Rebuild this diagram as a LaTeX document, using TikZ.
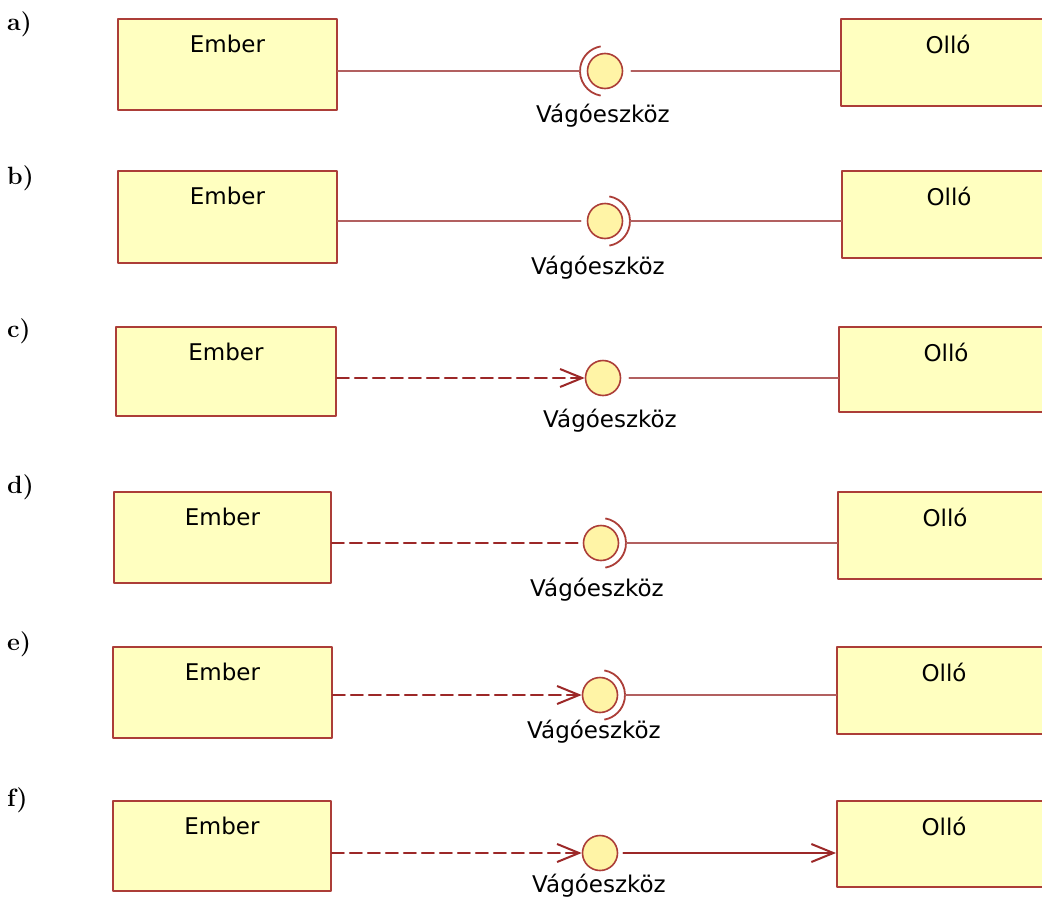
\documentclass[tikz,border=0pt]{standalone}
\usepackage{fontspec}
\newfontfamily\umlfont{DejaVu Sans}
\newfontfamily\tagfont{Latin Modern Roman}
\usetikzlibrary{arrows.meta}
\definecolor{boxred}{RGB}{172,62,56}
\definecolor{boxfill}{RGB}{255,255,192}
\definecolor{ballfill}{RGB}{255,244,166}
\definecolor{linkred}{RGB}{178,96,96}
\definecolor{depred}{RGB}{156,40,40}
\begin{document}
\begin{tikzpicture}[x=1pt,y=-1pt,line join=round,line cap=round,
		classbox/.style={draw=boxred,fill=boxfill,line width=1.8pt,anchor=north west,inner sep=0pt},
		boxtext/.style={font=\umlfont\fontsize{23}{27}\selectfont,inner sep=0pt},
		ball/.style={circle,draw=boxred,fill=ballfill,line width=1.6pt,minimum size=35pt,inner sep=0pt},
		socket/.style={draw=boxred,line width=1.8pt,line cap=butt},
		iflabel/.style={font=\umlfont\fontsize{23}{27}\selectfont,inner sep=0pt},
		panel/.style={font=\tagfont\bfseries\fontsize{25}{30}\selectfont,anchor=west,inner sep=0pt},
		assoc/.style={draw=linkred,line width=2pt},
		dep/.style={draw=depred,line width=2pt,dash pattern=on 12pt off 6pt},
		barb/.style={-{Straight Barb[length=22pt,width=18pt]}}]
	\useasboundingbox (0,0) rectangle (1042,900);
	\fill[white] (0,0) rectangle (1042,900);

	% a) socket on the user side, plain lines
	\node[panel] (la) at (7,24) {a)};
	\node[classbox,minimum width=219pt,minimum height=91pt] (emberA) at (117,18) {};
	\node[classbox,minimum width=230pt,minimum height=87pt] (olloA) at (840,18) {};
	\node[boxtext] at ([yshift=-26pt]emberA.north) {Ember};
	\node[boxtext] at ([xshift=108pt,yshift=-26pt]olloA.north west) {Olló};
	\node[ball] (ballA) at (605,71) {};
	\draw[socket] ([shift={(100:25)}]ballA.center) arc[start angle=100,end angle=260,radius=25];
	\coordinate (sockA) at ([xshift=-25pt]ballA.center);
	\draw[assoc] (emberA.east |- sockA) -- (sockA);
	\draw[assoc,shorten <=8pt] (ballA.east) -- (olloA.west |- ballA);
	\node[iflabel] (lblA) at (603,116) {Vágóeszköz};

	% b) socket on the provider side
	\node[panel] (lb) at (7,178) {b)};
	\node[classbox,minimum width=219pt,minimum height=92pt] (emberB) at (117,170) {};
	\node[classbox,minimum width=230pt,minimum height=87pt] (olloB) at (841,170) {};
	\node[boxtext] at ([yshift=-26pt]emberB.north) {Ember};
	\node[boxtext] at ([xshift=108pt,yshift=-26pt]olloB.north west) {Olló};
	\node[ball] (ballB) at (605,221) {};
	\draw[socket] ([shift={(-80:25)}]ballB.center) arc[start angle=-80,end angle=80,radius=25];
	\coordinate (sockB) at ([xshift=25pt]ballB.center);
	\draw[assoc,shorten >=6pt] (emberB.east |- ballB) -- (ballB.west);
	\draw[assoc] (sockB) -- (olloB.west |- sockB);
	\node[iflabel] (lblB) at (598,268) {Vágóeszköz};

	% c) dependency onto the ball
	\node[panel] (lc) at (7,331) {c)};
	\node[classbox,minimum width=220pt,minimum height=89pt] (emberC) at (115,326) {};
	\node[classbox,minimum width=230pt,minimum height=85pt] (olloC) at (838,326) {};
	\node[boxtext] at ([yshift=-26pt]emberC.north) {Ember};
	\node[boxtext] at ([xshift=108pt,yshift=-26pt]olloC.north west) {Olló};
	\node[ball] (ballC) at (603,378) {};
	\draw[dep,barb] (emberC.east |- ballC) -- (ballC.west);
	\draw[assoc,shorten <=8pt] (ballC.east) -- (olloC.west |- ballC);
	\node[iflabel] (lblC) at (610,421) {Vágóeszköz};

	% d) dashed line, socket on the provider side
	\node[panel] (ld) at (7,487) {d)};
	\node[classbox,minimum width=217pt,minimum height=91pt] (emberD) at (113,491) {};
	\node[classbox,minimum width=230pt,minimum height=87pt] (olloD) at (837,491) {};
	\node[boxtext] at ([yshift=-26pt]emberD.north) {Ember};
	\node[boxtext] at ([xshift=108pt,yshift=-26pt]olloD.north west) {Olló};
	\node[ball] (ballD) at (601,543) {};
	\draw[socket] ([shift={(-80:25)}]ballD.center) arc[start angle=-80,end angle=80,radius=25];
	\coordinate (sockD) at ([xshift=25pt]ballD.center);
	\draw[dep,shorten >=5pt] (emberD.east |- ballD) -- (ballD.west);
	\draw[assoc] (sockD) -- (olloD.west |- sockD);
	\node[iflabel] (lblD) at (597,590) {Vágóeszköz};

	% e) dependency and socket
	\node[panel] (le) at (7,644) {e)};
	\node[classbox,minimum width=219pt,minimum height=91pt] (emberE) at (112,646) {};
	\node[classbox,minimum width=230pt,minimum height=87pt] (olloE) at (836,646) {};
	\node[boxtext] at ([yshift=-26pt]emberE.north) {Ember};
	\node[boxtext] at ([xshift=108pt,yshift=-26pt]olloE.north west) {Olló};
	\node[ball] (ballE) at (600,695) {};
	\draw[socket] ([shift={(-80:25)}]ballE.center) arc[start angle=-80,end angle=80,radius=25];
	\coordinate (sockE) at ([xshift=25pt]ballE.center);
	\draw[dep,barb] (emberE.east |- ballE) -- (ballE.west);
	\draw[assoc] (sockE) -- (olloE.west |- sockE);
	\node[iflabel] (lblE) at (594,732) {Vágóeszköz};

	% f) dependency in, navigable association out
	\node[panel] (lf) at (7,800) {f)};
	\node[classbox,minimum width=218pt,minimum height=90pt] (emberF) at (112,800) {};
	\node[classbox,minimum width=230pt,minimum height=86pt] (olloF) at (836,800) {};
	\node[boxtext] at ([yshift=-26pt]emberF.north) {Ember};
	\node[boxtext] at ([xshift=108pt,yshift=-26pt]olloF.north west) {Olló};
	\node[ball] (ballF) at (600,853) {};
	\draw[dep,barb] (emberF.east |- ballF) -- (ballF.west);
	\draw[assoc,draw=depred,barb,shorten <=5pt] (ballF.east) -- (olloF.west |- ballF);
	\node[iflabel] (lblF) at (599,886) {Vágóeszköz};
\end{tikzpicture}
\end{document}
